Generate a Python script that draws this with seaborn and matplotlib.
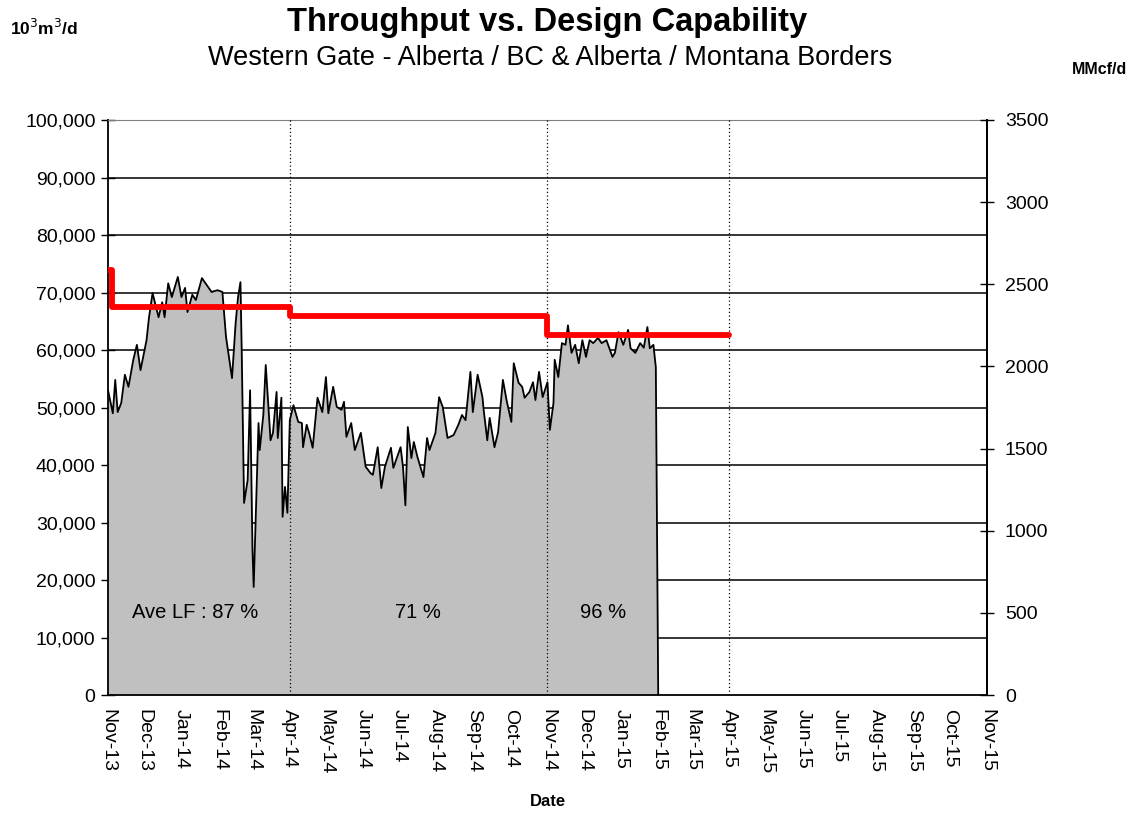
import pandas as pd
import numpy as np
import matplotlib
matplotlib.use("Agg")
import matplotlib.pyplot as plt
import matplotlib.dates as mdates
import seaborn as sns

sns.set_style("white")
plt.rcParams['font.family'] = ['Liberation Sans', 'DejaVu Sans']
plt.rcParams['text.color'] = 'black'
plt.rcParams['axes.labelcolor'] = 'black'
plt.rcParams['xtick.color'] = 'black'
plt.rcParams['ytick.color'] = 'black'

# --- daily throughput (10^3 m3/d) ---
flow_dates = [
    "2013-11-01", "2013-11-05", "2013-11-07", "2013-11-09", "2013-11-12", "2013-11-15",
    "2013-11-18", "2013-11-22", "2013-11-25", "2013-11-28", "2013-12-03", "2013-12-05",
    "2013-12-08", "2013-12-13", "2013-12-16", "2013-12-18", "2013-12-21", "2013-12-24",
    "2013-12-27", "2013-12-29", "2014-01-01", "2014-01-04", "2014-01-06", "2014-01-10",
    "2014-01-13", "2014-01-18", "2014-01-22", "2014-01-26", "2014-01-31", "2014-02-04",
    "2014-02-07", "2014-02-12", "2014-02-15", "2014-02-17", "2014-02-19", "2014-02-20",
    "2014-02-22", "2014-02-25", "2014-02-27", "2014-03-01", "2014-03-02", "2014-03-06",
    "2014-03-07", "2014-03-10", "2014-03-12", "2014-03-16", "2014-03-18", "2014-03-21",
    "2014-03-22", "2014-03-25", "2014-03-26", "2014-03-28", "2014-03-30", "2014-04-01",
    "2014-04-04", "2014-04-08", "2014-04-11", "2014-04-12", "2014-04-15", "2014-04-17",
    "2014-04-20", "2014-04-24", "2014-04-28", "2014-05-01", "2014-05-03", "2014-05-07",
    "2014-05-10", "2014-05-14", "2014-05-16", "2014-05-18", "2014-05-22", "2014-05-25",
    "2014-05-30", "2014-06-03", "2014-06-07", "2014-06-09", "2014-06-13", "2014-06-16",
    "2014-06-19", "2014-06-24", "2014-06-26", "2014-07-02", "2014-07-04", "2014-07-06",
    "2014-07-08", "2014-07-11", "2014-07-13", "2014-07-16", "2014-07-21", "2014-07-24",
    "2014-07-26", "2014-07-31", "2014-08-03", "2014-08-06", "2014-08-10", "2014-08-15",
    "2014-08-19", "2014-08-22", "2014-08-25", "2014-08-29", "2014-08-31", "2014-09-04",
    "2014-09-08", "2014-09-09", "2014-09-12", "2014-09-14", "2014-09-18", "2014-09-21",
    "2014-09-25", "2014-09-28", "2014-10-02", "2014-10-04", "2014-10-08", "2014-10-11",
    "2014-10-13", "2014-10-17", "2014-10-20", "2014-10-22", "2014-10-25", "2014-10-28",
    "2014-11-01", "2014-11-03", "2014-11-06", "2014-11-07", "2014-11-10", "2014-11-13",
    "2014-11-16", "2014-11-18", "2014-11-21", "2014-11-24", "2014-11-27", "2014-11-30",
    "2014-12-03", "2014-12-06", "2014-12-09", "2014-12-13", "2014-12-16", "2014-12-20",
    "2014-12-25", "2014-12-27", "2014-12-30", "2015-01-03", "2015-01-07", "2015-01-09",
    "2015-01-13", "2015-01-17", "2015-01-20", "2015-01-23", "2015-01-25", "2015-01-28",
    "2015-01-30", "2015-02-01",
]
flow_values = [
    53000, 49000, 54800, 49200, 50800, 55700,
    53600, 58300, 60900, 56500, 61700, 65600,
    69900, 65700, 68300, 65700, 71600, 69200,
    71300, 72700, 69200, 70800, 66600, 69600,
    68700, 72500, 71300, 70100, 70400, 70100,
    62300, 55100, 64700, 69200, 71800, 60500,
    33400, 37400, 53000, 25200, 18800, 47300,
    42600, 48700, 57400, 44300, 45600, 52700,
    44700, 51700, 31000, 36200, 31700, 47800,
    50400, 47500, 47300, 43100, 47000, 45600,
    43000, 51700, 49200, 55300, 49000, 53600,
    50100, 49600, 51000, 44900, 47300, 42600,
    45600, 39700, 38600, 38300, 43100, 36000,
    39700, 43000, 39500, 43100, 39700, 33000,
    46600, 41200, 44000, 41400, 37900, 44700,
    42600, 45600, 51800, 50100, 44700, 45200,
    47000, 48700, 47800, 56200, 49200, 55700,
    51800, 49600, 44300, 48200, 43100, 45700,
    54800, 51300, 47500, 57700, 54300, 53600,
    51700, 52700, 54400, 51300, 56200, 51800,
    54400, 46100, 50800, 58300, 55300, 61200,
    60900, 64300, 59500, 60900, 57700, 61700,
    58800, 61700, 61200, 62100, 61200, 61700,
    58800, 59500, 63100, 60900, 63500, 60300,
    59500, 61200, 60400, 64000, 60300, 60900,
    57000, 0,
]

# --- design capability (step) ---
cap_dates = ["2013-11-01", "2013-11-04", "2014-04-01", "2014-11-01", "2015-04-01"]
cap_values = [74000, 67500, 66000, 62600, 62600]

# load factor labels
lf_dates = ["2013-11-21", "2014-06-27", "2014-11-28"]
lf_labels = ["Ave LF : 87 %", "71 %", "96 %"]

period_breaks = ["2014-04-01", "2014-11-01", "2015-04-01"]

flow = pd.DataFrame({"date": pd.to_datetime(flow_dates), "value": flow_values})
cap = pd.DataFrame({"date": pd.to_datetime(cap_dates), "value": cap_values})

fig = plt.figure(figsize=(11.37, 8.13), dpi=100)
ax = fig.add_axes([0.095, 0.1451, 0.773, 0.7073])

# gridlines behind the area
for y in range(10000, 100001, 10000):
    ax.axhline(y, color="black" if y < 100000 else "#808080", lw=1.1, zorder=0)

ax.fill_between(flow["date"], flow["value"], 0, color="#C0C0C0", zorder=1, lw=0)
sns.lineplot(data=flow, x="date", y="value", ax=ax, color="black", lw=1.3, zorder=2)
sns.lineplot(data=cap, x="date", y="value", ax=ax, color="#FF0000", lw=4.2,
             drawstyle="steps-post", zorder=4)

for d in period_breaks:
    ax.axvline(pd.Timestamp(d), color="black", lw=0.9, ls=(0, (1, 2)), zorder=3)

for d, t in zip(lf_dates, lf_labels):
    ax.text(pd.Timestamp(d), 14300, t, fontsize=14.5, ha="left", va="center", zorder=5)

ax.set_xlim(pd.Timestamp("2013-11-01"), pd.Timestamp("2015-11-01"))
ax.set_ylim(0, 100000)
ax.set_yticks(range(0, 100001, 10000))
ax.set_yticklabels([f"{v:,}" for v in range(0, 100001, 10000)], fontsize=14)
ax.xaxis.set_major_locator(mdates.MonthLocator())
ax.xaxis.set_major_formatter(mdates.DateFormatter("%b-%y"))
plt.setp(ax.get_xticklabels(), rotation=270, fontsize=14, ha="center", va="top")
ax.tick_params(axis="y", direction="inout", length=10, width=1, colors="black", pad=4)
ax.tick_params(axis="x", direction="out", length=7, width=1, colors="black", pad=3)
ax.set_xlabel("Date", fontsize=12, fontweight="bold", labelpad=14)
ax.set_ylabel("")
for s in ["left", "bottom", "right"]:
    ax.spines[s].set_color("black")
    ax.spines[s].set_linewidth(1.3)
ax.spines["top"].set_color("#808080")

ax2 = ax.twinx()
ax2.set_ylim(0, 3500)
ax2.set_yticks(range(0, 3501, 500))
ax2.set_yticklabels([str(v) for v in range(0, 3501, 500)], fontsize=14)
ax2.tick_params(axis="y", direction="inout", length=10, width=1, pad=8)
for s in ["left", "top", "bottom"]:
    ax2.spines[s].set_visible(False)
ax2.spines["right"].set_color("black")
ax2.spines["right"].set_linewidth(1.3)

fig.text(0.481, 0.972, "Throughput vs. Design Capability", fontsize=23.5, fontweight="bold",
         ha="center", va="center")
fig.text(0.484, 0.929, "Western Gate - Alberta / BC & Alberta / Montana Borders", fontsize=19.5,
         ha="center", va="center")
fig.text(0.009, 0.966, "10$^3$m$^3$/d", fontsize=12.5, fontweight="bold", ha="left", va="center")
fig.text(0.991, 0.914, "MMcf/d", fontsize=11.5, fontweight="bold", ha="right", va="center")

fig.savefig("out.png", dpi=100)
